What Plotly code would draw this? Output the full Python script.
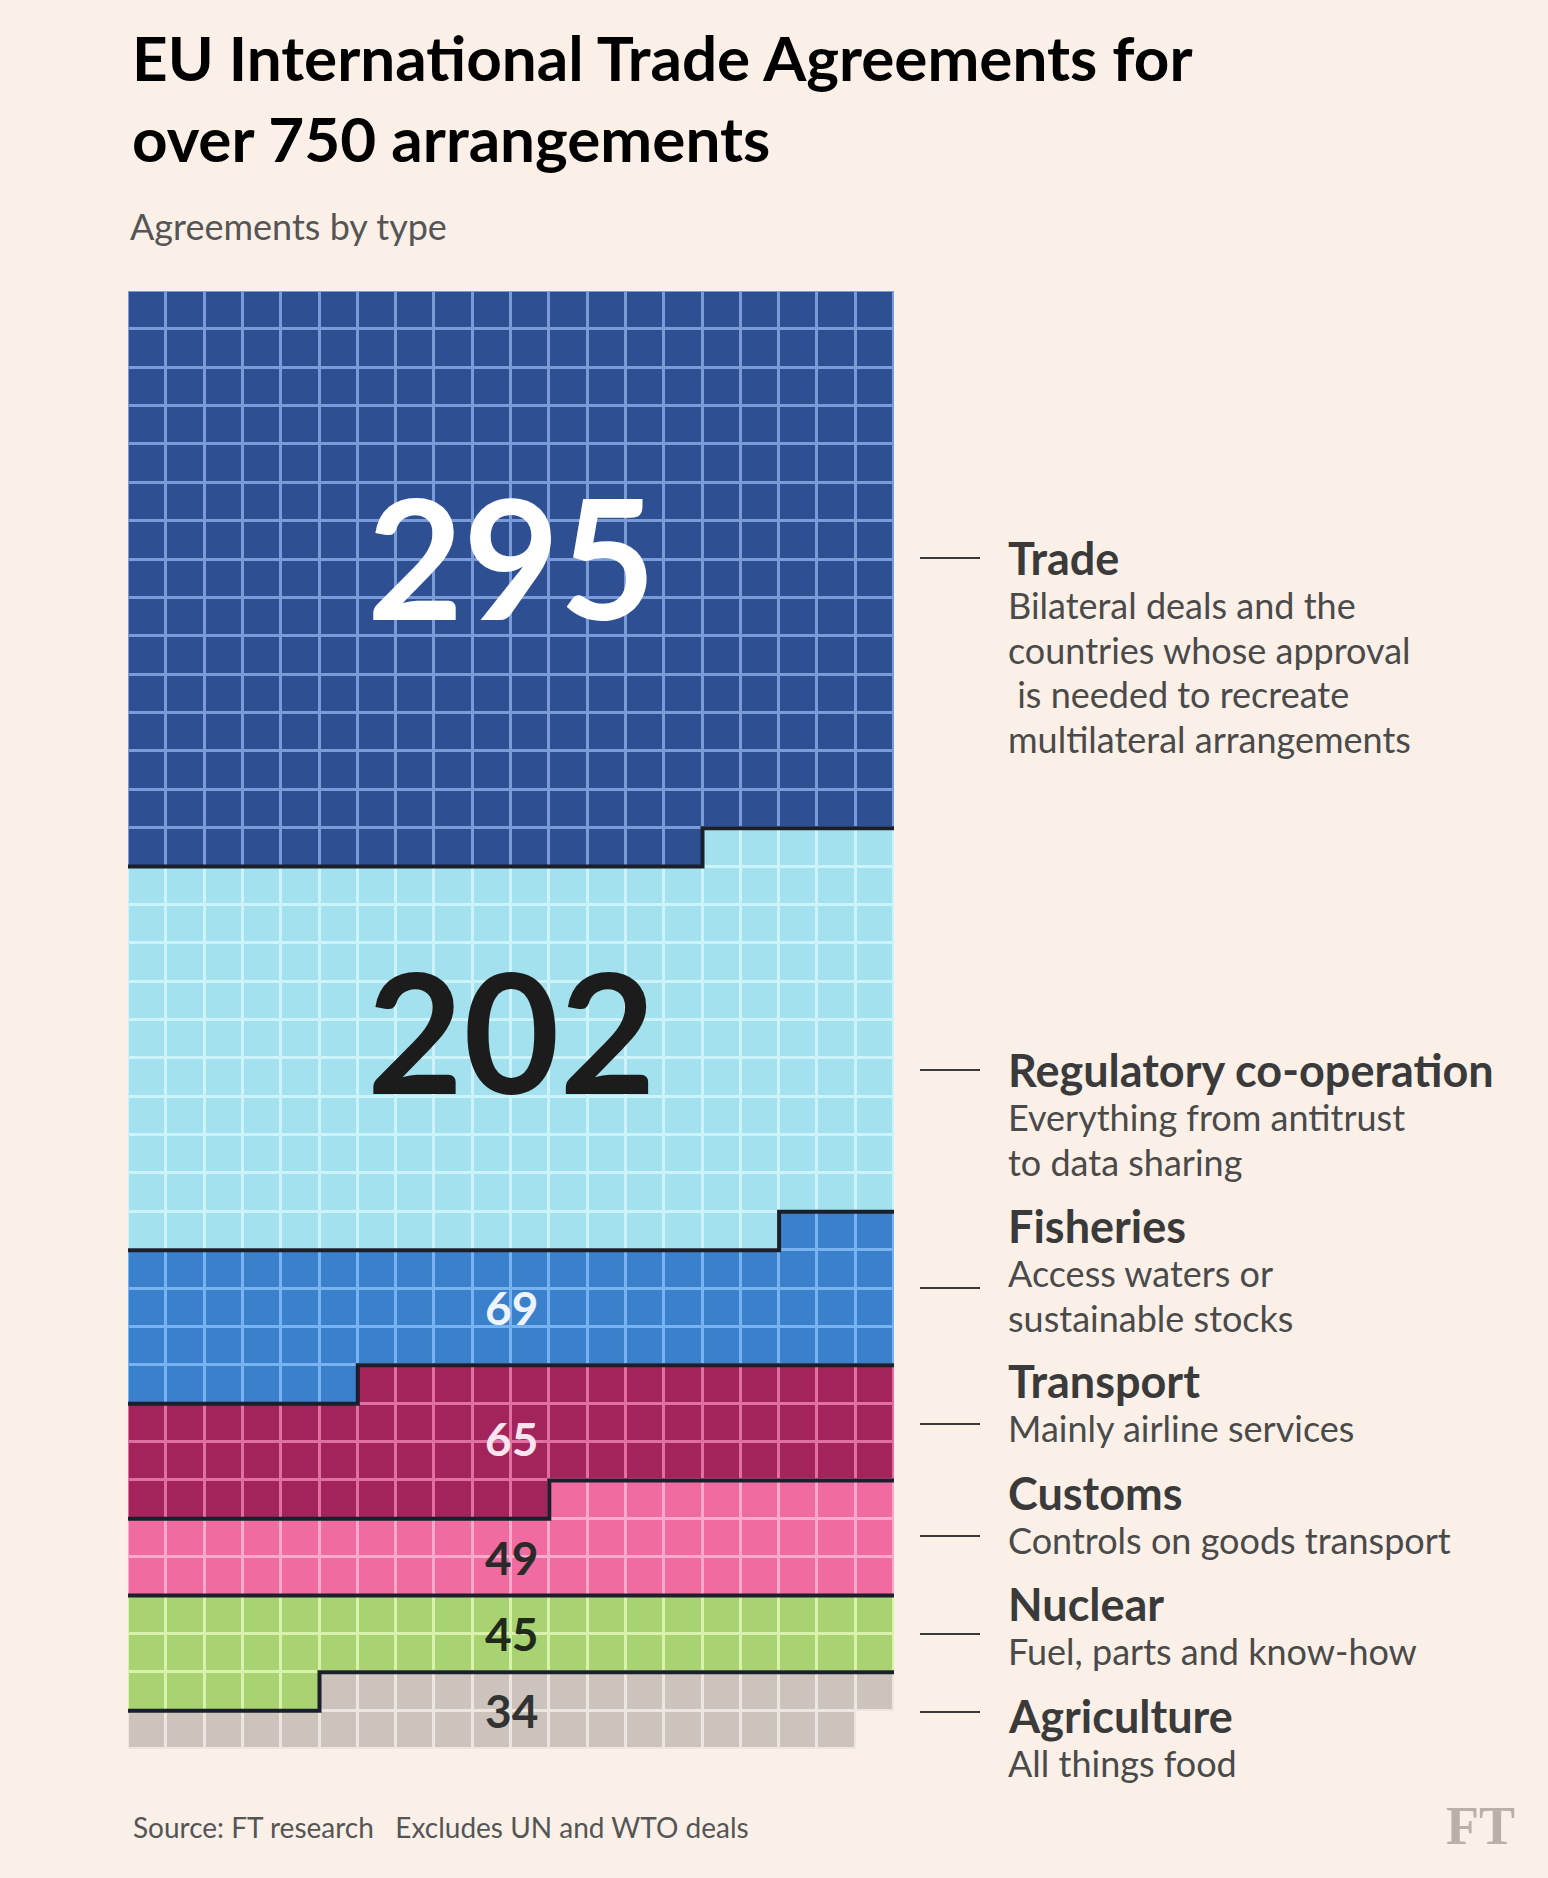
import numpy as np
import plotly.graph_objects as go

# --- data -------------------------------------------------------------
categories = ["Trade", "Regulatory co-operation", "Fisheries", "Transport",
              "Customs", "Nuclear", "Agriculture"]
counts = [295, 202, 69, 65, 49, 45, 34]
descriptions = [
    ["Bilateral deals and the", "countries whose approval",
     " is needed to recreate", "multilateral arrangements"],
    ["Everything from antitrust", "to data sharing"],
    ["Access waters or", "sustainable stocks"],
    ["Mainly airline services"],
    ["Controls on goods transport"],
    ["Fuel, parts and know-how"],
    ["All things food"],
]

# --- styling ----------------------------------------------------------
BG = "#fbf0e7"
cell_colors = ["#2e5093", "#a3e1ef", "#3b80cb", "#a3245b",
               "#f06ba0", "#a9d273", "#cdc3bd"]
grid_colors = ["#7b9bd8", "#cdf3fa", "#76b3f0", "#e0709f",
               "#f9a9c9", "#d8f1ab", "#ede5df"]
number_colors = ["#ffffff", "#1c1c1c", "#eef4ff", "#f7e4ee",
                 "#2a2a2a", "#1f2a1a", "#333333"]
number_sizes = [166, 166, 46, 46, 46, 46, 46]
number_rows = [6.4, 18.75, 26.0, 29.4, 32.5, 34.5, 36.5]

COLS = 20
W, H = 1532, 1862
OFF = 8  # default body margin of the page
grid_l, grid_r, grid_t, grid_b = 128, 894, 291, 1749  # page pixels


def px(x):
    # page pixel -> paper coordinate (paper spans the plot area)
    return (x - grid_l) / (grid_r - grid_l)


def py(y):
    return (grid_b - y) / (grid_b - grid_t)


# --- waffle grid ------------------------------------------------------
total = sum(counts)
rows = int(np.ceil(total / COLS))
flat = np.full(rows * COLS, np.nan)
pos = 0
for i, n in enumerate(counts):
    flat[pos:pos + n] = i
    pos += n
z = flat.reshape(rows, COLS)


def step_scale(colors):
    k = len(colors)
    scale = []
    for i, c in enumerate(colors):
        scale.append([i / k, c])
        scale.append([(i + 1) / k, c])
    return scale


fig = go.Figure()

# lighter layer shows through the gaps as grid lines
fig.add_trace(go.Heatmap(
    z=z, zmin=-0.5, zmax=len(counts) - 0.5,
    colorscale=step_scale(grid_colors), showscale=False, hoverinfo="skip"
))
fig.add_trace(go.Heatmap(
    z=z, zmin=-0.5, zmax=len(counts) - 0.5,
    colorscale=step_scale(cell_colors), showscale=False,
    xgap=3, ygap=3, hoverinfo="skip"
))

# dark borders between categories
cum = np.cumsum(counts)[:-1]
for c in cum:
    r, col = divmod(int(c), COLS)
    if col == 0:
        xs = [-0.5, COLS - 0.5]
        ys = [r - 0.5, r - 0.5]
    else:
        xs = [-0.5, col - 0.5, col - 0.5, COLS - 0.5]
        ys = [r + 0.5, r + 0.5, r - 0.5, r - 0.5]
    fig.add_trace(go.Scatter(
        x=xs, y=ys, mode="lines",
        line=dict(color="#1b1f2b", width=4),
        hoverinfo="skip", showlegend=False, cliponaxis=False
    ))

annotations = []
for i, n in enumerate(counts):
    annotations.append(dict(
        x=(COLS - 1) / 2, y=number_rows[i], xref="x", yref="y",
        text=f"<b>{n}</b>", showarrow=False,
        font=dict(family="Lato", size=number_sizes[i], color=number_colors[i])
    ))

# --- right-hand labels ------------------------------------------------
title_y = [558, 1070, 1226, 1381, 1493, 1604, 1716]
leader_y = [558, 1070, 1288, 1424, 1536, 1634, 1712]
shapes = []
for i, cat in enumerate(categories):
    annotations.append(dict(
        x=px(1006), y=py(title_y[i]), xref="paper", yref="paper",
        xanchor="left", yanchor="middle", showarrow=False,
        text=f"<b>{cat}</b>",
        font=dict(family="Lato", size=45, color="#3a3a3a")
    ))
    for j, line in enumerate(descriptions[i]):
        annotations.append(dict(
            x=px(1006), y=py(title_y[i] + 47 + 44.5 * j),
            xref="paper", yref="paper",
            xanchor="left", yanchor="middle", showarrow=False,
            text=line.replace(" ", "&nbsp;", 1) if line.startswith(" ") else line,
            font=dict(family="Lato", size=36, color="#4a4a4a")
        ))
    shapes.append(dict(
        type="line", xref="paper", yref="paper",
        x0=px(920), x1=px(980), y0=py(leader_y[i]), y1=py(leader_y[i]),
        line=dict(color="#3a3a3a", width=2)
    ))

# --- headings and footer ----------------------------------------------
annotations += [
    dict(x=px(130), y=py(57), xref="paper", yref="paper",
         xanchor="left", yanchor="middle", showarrow=False,
         text="<b>EU International Trade Agreements for</b>",
         font=dict(family="Lato", size=62, color="#000000")),
    dict(x=px(130), y=py(138), xref="paper", yref="paper",
         xanchor="left", yanchor="middle", showarrow=False,
         text="<b>over 750 arrangements</b>",
         font=dict(family="Lato", size=62, color="#000000")),
    dict(x=px(128), y=py(226), xref="paper", yref="paper",
         xanchor="left", yanchor="middle", showarrow=False,
         text="Agreements by type",
         font=dict(family="Lato", size=36, color="#555555")),
    dict(x=px(131), y=py(1827), xref="paper", yref="paper",
         xanchor="left", yanchor="middle", showarrow=False,
         text="Source: FT research&nbsp;&nbsp;&nbsp;Excludes UN and WTO deals",
         font=dict(family="Lato", size=28, color="#555555")),
    dict(x=px(1517), y=py(1826), xref="paper", yref="paper",
         xanchor="right", yanchor="middle", showarrow=False,
         text="<b>FT</b>",
         font=dict(family="Liberation Serif", size=54, color="#b9b0a8")),
]

fig.update_layout(
    width=W, height=H,
    margin=dict(l=grid_l - OFF, r=W - (grid_r - OFF), t=grid_t - OFF,
                b=H - (grid_b - OFF), pad=0),
    paper_bgcolor=BG, plot_bgcolor=BG,
    showlegend=False,
    xaxis=dict(range=[-0.5, COLS - 0.5], visible=False, fixedrange=True),
    yaxis=dict(range=[rows - 0.5, -0.5], visible=False, fixedrange=True),
    annotations=annotations,
    shapes=shapes,
)

# paint the page margin in the same cream as the chart
page_bg = (f"document.body.style.backgroundColor='{BG}';"
           f"document.documentElement.style.backgroundColor='{BG}';")
fig.write_html("out.html", post_script=page_bg)
